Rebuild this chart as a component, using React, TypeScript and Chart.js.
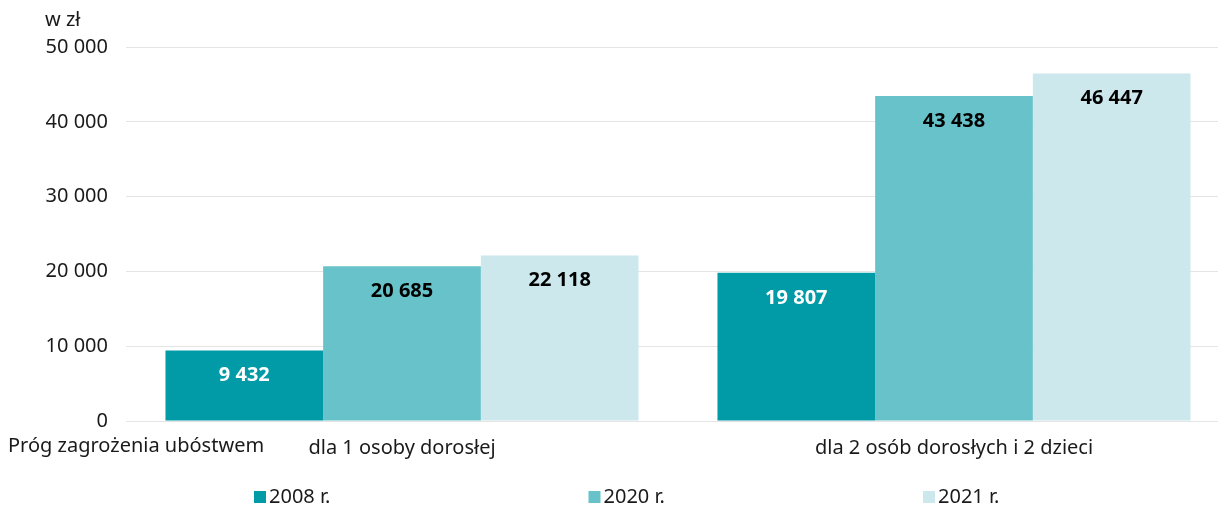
import React, { useEffect, useRef } from "react";
import { Chart, registerables } from "chart.js";

Chart.register(...registerables);

const categories = ["dla 1 osoby dorosłej", "dla 2 osób dorosłych i 2 dzieci"];
const seriesNames = ["2008 r.", "2020 r.", "2021 r."];
const values2008 = [9432, 19807];
const values2020 = [20685, 43438];
const values2021 = [22118, 46447];
const yTicks = [0, 10000, 20000, 30000, 40000, 50000];
const colors = ["#009BA6", "#67C3C9", "#CCE8EC"];
const labelColors = ["#ffffff", "#000000", "#000000"];

const FONT = "'Noto Sans', sans-serif";
const fmt = (v: number) => String(Math.round(v)).replace(/\B(?=(\d{3})+(?!\d))/g, " ");

const extras = {
  id: "extras",
  afterDatasetsDraw(chart: any) {
    const ctx = chart.ctx;
    ctx.save();
    chart.data.datasets.forEach((ds: any, i: number) => {
      const meta = chart.getDatasetMeta(i);
      meta.data.forEach((bar: any, j: number) => {
        ctx.font = `bold 20px ${FONT}`;
        ctx.fillStyle = labelColors[i];
        ctx.textAlign = "center";
        ctx.textBaseline = "middle";
        ctx.fillText(fmt(ds.data[j]), bar.x, bar.y + 25);
      });
    });
    ctx.font = `20px ${FONT}`;
    ctx.fillStyle = "#1a1a1a";
    ctx.textAlign = "left";
    ctx.textBaseline = "middle";
    ctx.fillText("w zł", 45, 20);
    ctx.fillText("Próg zagrożenia ubóstwem", 8, 446);
    seriesNames.forEach((name, i) => {
      const x = 254 + i * 334.5;
      ctx.fillStyle = colors[i];
      ctx.fillRect(x, 491, 12, 12);
      ctx.fillStyle = "#1a1a1a";
      ctx.textBaseline = "middle";
      ctx.fillText(name, x + 15, 497);
    });
    ctx.restore();
  },
};

export default function App() {
  const ref = useRef<HTMLCanvasElement | null>(null);
  useEffect(() => {
    if (!ref.current) return;
    const chart = new Chart(ref.current, {
      type: "bar",
      data: {
        labels: categories,
        datasets: [values2008, values2020, values2021].map((d, i) => ({
          label: seriesNames[i],
          data: d,
          backgroundColor: colors[i],
          borderWidth: 0,
          categoryPercentage: 0.857,
          barPercentage: 1,
        })),
      },
      options: {
        responsive: false,
        animation: false,
        devicePixelRatio: 1,
        layout: { padding: { top: 47, right: 0, bottom: 30, left: 0 } },
        plugins: {
          legend: { display: false },
          tooltip: { enabled: false },
        },
        scales: {
          x: {
            grid: { display: false, drawTicks: false },
            border: { display: true, color: "#e4e4e4" },
            ticks: {
              color: "#1a1a1a",
              font: { family: FONT, size: 20 },
              padding: 15,
            },
          },
          y: {
            min: 0,
            max: 50000,
            afterFit: (scale: any) => {
              scale.width = 126;
            },
            afterBuildTicks: (scale: any) => {
              scale.ticks = yTicks.map((v) => ({ value: v }));
            },
            grid: { color: "#e4e4e4", drawTicks: false },
            border: { display: false },
            ticks: {
              color: "#1a1a1a",
              font: { family: FONT, size: 20 },
              padding: 18,
              callback: (v: any) => fmt(Number(v)),
            },
          },
        },
      },
      plugins: [extras],
    });
    return () => chart.destroy();
  }, []);
  return (
    <div style={{ position: "absolute", left: 0, top: 0, width: 1218, height: 505, overflow: "hidden" }}>
      <canvas ref={ref} width={1230} height={505} style={{ display: "block" }} />
    </div>
  );
}
